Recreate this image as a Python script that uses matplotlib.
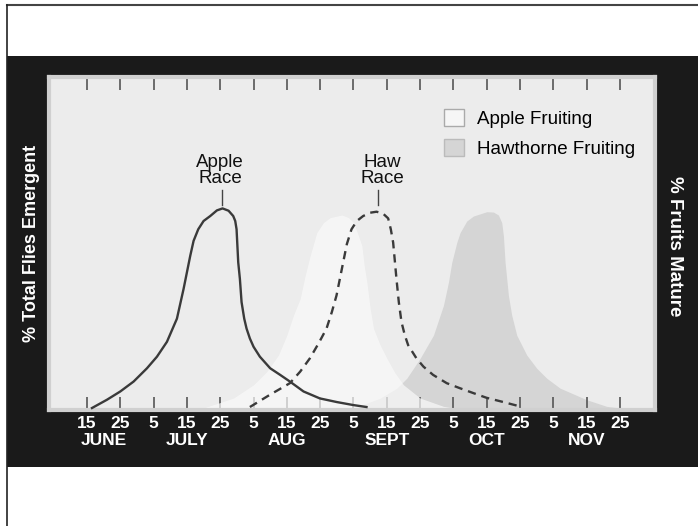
import matplotlib
matplotlib.use("Agg")
import matplotlib.pyplot as plt
from matplotlib.patches import Rectangle, Patch
from matplotlib.lines import Line2D

plt.rcParams['font.family'] = ['Liberation Sans', 'DejaVu Sans']

# x = position in 10-day steps, 0 = 15 June
day_labels = ['15', '25', '5', '15', '25', '5', '15', '25', '5',
              '15', '25', '5', '15', '25', '5', '15', '25']
months = ['JUNE', 'JULY', 'AUG', 'SEPT', 'OCT', 'NOV']
month_pos = [0.5, 3, 6, 9, 12, 15]

# % total flies emergent - apple race (solid)
apple_race_x = [0.15, 0.6, 1.0, 1.4, 1.8, 2.1, 2.4, 2.7, 2.9, 3.1, 3.2, 3.34, 3.5, 3.7,
                3.9, 4.07, 4.25, 4.39, 4.45, 4.49, 4.54, 4.59, 4.64, 4.72, 4.79, 4.89,
                5.0, 5.19, 5.5, 5.8, 6.09, 6.5, 6.99, 7.5, 7.99, 8.39]
apple_race_y = [0, 2.5, 5, 8, 12, 15.5, 20, 27, 36, 46, 50.5, 54, 56.5, 58,
                59.7, 60.3, 59.6, 58, 56.5, 54, 44, 39, 32, 27, 24, 21,
                18.5, 15.5, 12, 10, 8, 5, 2.9, 1.8, 0.9, 0.3]

# % total flies emergent - haw race (dashed)
haw_race_x = [4.89, 5.49, 5.8, 6.09, 6.4, 6.69, 6.95, 7.19, 7.35, 7.49, 7.69, 7.8, 7.94,
              8.1, 8.29, 8.5, 8.69, 8.88, 9.04, 9.12, 9.19, 9.24, 9.29, 9.36, 9.44,
              9.54, 9.64, 9.89, 10.1, 10.39, 10.8, 11.19, 11.6, 11.99, 12.5, 12.99]
haw_race_y = [0.3, 4, 5.8, 7.5, 11, 15, 19.5, 24, 29, 34, 44, 49.5, 54,
              56.5, 58, 59, 59.3, 58.8, 57.3, 54, 50, 44.5, 39, 32, 26,
              22, 19, 15, 12.5, 10, 7.5, 6, 4.5, 3.1, 1.8, 0.5]

# % fruits mature
apple_fruit_x = [3.5, 4.4, 5.0, 5.4, 5.75, 6.0, 6.2, 6.4, 6.55, 6.7, 6.9, 7.1, 7.3, 7.65,
                 7.85, 8.0, 8.15, 8.25, 8.32, 8.4, 8.5, 8.6, 8.8, 9.0, 9.25, 9.5, 10.0,
                 10.7, 11.0]
apple_fruit_y = [0, 3, 7, 11, 16, 22, 28, 33, 40, 46, 53, 56, 57.5, 58.3,
                 57.5, 56, 52, 49, 43, 38, 30, 24, 19, 15, 10.5, 7, 3,
                 0.5, 0]

haw_fruit_x = [8.0, 8.8, 9.3, 9.6, 10.0, 10.4, 10.7, 10.85, 10.95, 11.1, 11.2, 11.4, 11.6,
               12.0, 12.2, 12.35, 12.45, 12.5, 12.55, 12.6, 12.65, 12.75, 12.9, 13.2,
               13.5, 13.8, 14.2, 15.0, 15.6, 16.0]
haw_fruit_y = [0, 3, 6, 9, 15, 22, 31, 38, 44, 50, 53, 56.5, 58,
               59.3, 59.2, 58.3, 56, 52, 44, 39, 34, 28, 22, 16,
               12, 9, 6, 2.5, 0.5, 0]

W, H = 698, 526
fig = plt.figure(figsize=(W / 100, H / 100), dpi=100)
fig.patch.set_facecolor('white')

# outer frame lines and black panel
fig.add_artist(Line2D([7 / W, 1], [1 - 5 / H, 1 - 5 / H], color='#444444', lw=1.5,
                      transform=fig.transFigure))
fig.add_artist(Line2D([7 / W, 7 / W], [0, 1 - 5 / H], color='#222222', lw=1.2,
                      transform=fig.transFigure))
fig.add_artist(Rectangle((7 / W, 1 - 467 / H), 691 / W, 411 / H, facecolor='#1a1a1a',
                         edgecolor='none', transform=fig.transFigure, zorder=0))

ax = fig.add_axes([49 / W, 1 - 410 / H, 606 / W, 333 / H])
ax.set_facecolor('#ececec')

ax.fill_between(haw_fruit_x, haw_fruit_y, 0, color='#d5d5d5', lw=0, zorder=1)
ax.fill_between(apple_fruit_x, apple_fruit_y, 0, color='#fafafa', alpha=0.7, lw=0, zorder=2)

ax.plot(apple_race_x, apple_race_y, color='#3a3a3a', lw=1.7, zorder=3)
ax.plot(haw_race_x, haw_race_y, color='#3a3a3a', lw=1.7, dashes=(3.5, 2.5), zorder=3)

ax.set_xlim(-1.14, 17.05)
ax.set_ylim(-0.6, 100)

ax.set_xticks(range(len(day_labels)))
ax.set_xticklabels(day_labels, color='white', fontweight='bold', fontsize=12.5)
ax.tick_params(axis='x', direction='in', top=True, bottom=True, length=9.5, width=1.2,
               color='#555555', pad=4)
ax.set_yticks([])
for sp in ax.spines.values():
    sp.set_color('#d0d0d0')
    sp.set_linewidth(3)

for m, p in zip(months, month_pos):
    ax.text(p, -0.092, m, transform=ax.get_xaxis_transform(), ha='center', va='center',
            color='white', fontweight='bold', fontsize=12.5)

# curve labels
ax.text(3.99, 71.8, 'Apple\nRace', ha='center', va='center', fontsize=13.5,
        linespacing=0.95, color='#111111')
ax.plot([4.05, 4.05], [61.3, 65.9], color='#444444', lw=1)
ax.text(8.86, 71.8, 'Haw\nRace', ha='center', va='center', fontsize=13.5,
        linespacing=0.95, color='#111111')
ax.plot([8.74, 8.74], [61.3, 65.9], color='#444444', lw=1)

handles = [Patch(facecolor='#f6f6f6', edgecolor='#aaaaaa', label='Apple Fruiting'),
           Patch(facecolor='#d5d5d5', edgecolor='#bbbbbb', label='Hawthorne Fruiting')]
ax.legend(handles=handles, loc='upper left', bbox_to_anchor=(0.652, 0.905), frameon=False,
          fontsize=13.5, handlelength=1.05, handleheight=1.05, handletextpad=0.7,
          labelspacing=0.6, borderpad=0, borderaxespad=0)

fig.text(32 / W, 1 - 243 / H, '% Total Flies Emergent', rotation=90, ha='center',
         va='center', color='white', fontweight='bold', fontsize=13)
fig.text(675 / W, 1 - 246 / H, '% Fruits Mature', rotation=270, ha='center',
         va='center', color='white', fontweight='bold', fontsize=13.5)

fig.savefig('out.png', dpi=100)
